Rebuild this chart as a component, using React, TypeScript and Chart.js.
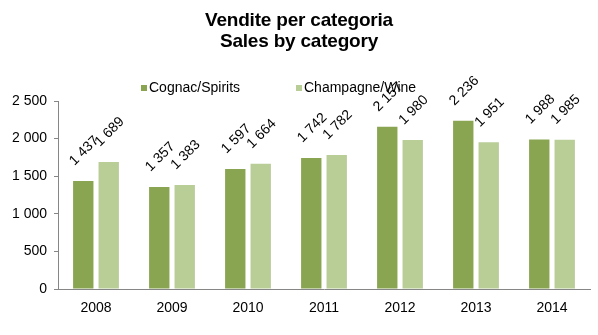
import React, { useEffect, useRef } from "react";
import { Chart, registerables } from "chart.js";

Chart.register(...registerables);

const years = ["2008", "2009", "2010", "2011", "2012", "2013", "2014"];
const cognacSpirits = [1437, 1357, 1597, 1742, 2157, 2236, 1988];
const champagneWine = [1689, 1383, 1664, 1782, 1980, 1951, 1985];
const seriesNames = ["Cognac/Spirits", "Champagne/Wine"];
const titleLines = ["Vendite per categoria", "Sales by category"];

const DARK = "#8AA551";
const LIGHT = "#B9CD97";
const AXIS = "#868686";
const FONT = "Arial, 'Liberation Sans', sans-serif";

function fmt(n: number): string {
  if (n >= 1000) return `${Math.floor(n / 1000)} ${String(n % 1000).padStart(3, "0")}`;
  return String(n);
}

const overlayPlugin = {
  id: "overlay",
  afterDraw(chart: any) {
    const ctx = chart.ctx as CanvasRenderingContext2D;
    const W = chart.width;
    ctx.save();
    // Title
    ctx.fillStyle = "#000";
    ctx.font = `bold 19px ${FONT}`;
    (ctx as any).letterSpacing = "-0.2px";
    ctx.textAlign = "center";
    ctx.textBaseline = "middle";
    ctx.fillText(titleLines[0], W / 2, 21);
    ctx.fillText(titleLines[1], W / 2, 42);
    (ctx as any).letterSpacing = "0px";

    // Legend
    ctx.font = `14px ${FONT}`;
    ctx.textAlign = "left";
    const legendX = [141, 296];
    chart.data.datasets.forEach((ds: any, i: number) => {
      ctx.fillStyle = ds.backgroundColor;
      ctx.fillRect(legendX[i], 85, 6, 6);
      ctx.fillStyle = "#000";
      ctx.fillText(ds.label, legendX[i] + 8, 88);
    });

    // Data labels
    ctx.font = `14px ${FONT}`;
    ctx.textAlign = "center";
    ctx.textBaseline = "middle";
    ctx.fillStyle = "#000";
    chart.data.datasets.forEach((ds: any, di: number) => {
      const meta = chart.getDatasetMeta(di);
      meta.data.forEach((bar: any, i: number) => {
        ctx.save();
        ctx.translate(bar.x + 1, bar.y - 30);
        ctx.rotate(-Math.PI / 4);
        ctx.fillText(fmt(ds.data[i]), 0, 0);
        ctx.restore();
      });
    });
    ctx.restore();
  },
};

export default function App() {
  const ref = useRef<HTMLCanvasElement | null>(null);
  useEffect(() => {
    if (!ref.current) return;
    const chart = new Chart(ref.current, {
      type: "bar",
      data: {
        labels: years,
        datasets: [
          { label: seriesNames[0], data: cognacSpirits, backgroundColor: DARK },
          { label: seriesNames[1], data: champagneWine, backgroundColor: LIGHT },
        ],
      },
      options: {
        responsive: false,
        animation: false,
        devicePixelRatio: 1,
        layout: { padding: { top: 101, right: 8, left: 0, bottom: 0 } },
        datasets: { bar: { categoryPercentage: 0.67, barPercentage: 0.8 } } as any,
        plugins: {
          legend: { display: false },
          title: { display: false },
          tooltip: { enabled: false },
        },
        scales: {
          x: {
            grid: { display: false, drawTicks: false },
            border: { display: true, color: AXIS },
            ticks: { color: "#000", font: { family: FONT, size: 14 }, padding: 11 },
            afterFit: (s: any) => { s.height = 46; },
          },
          y: {
            min: 0,
            max: 2500,
            grid: { drawOnChartArea: false, drawTicks: true, tickLength: 4, color: AXIS },
            border: { display: true, color: AXIS },
            ticks: {
              stepSize: 500,
              color: "#000",
              font: { family: FONT, size: 14 },
              padding: 7,
              callback: (v: any) => fmt(Number(v)),
            },
            afterFit: (s: any) => { s.width = 58; },
          },
        },
      },
      plugins: [overlayPlugin],
    });
    return () => chart.destroy();
  }, []);
  return (
    <div style={{ position: "fixed", left: 0, top: 0, width: 598, height: 335, background: "#fff" }}>
      <canvas ref={ref} width={598} height={335} />
    </div>
  );
}
